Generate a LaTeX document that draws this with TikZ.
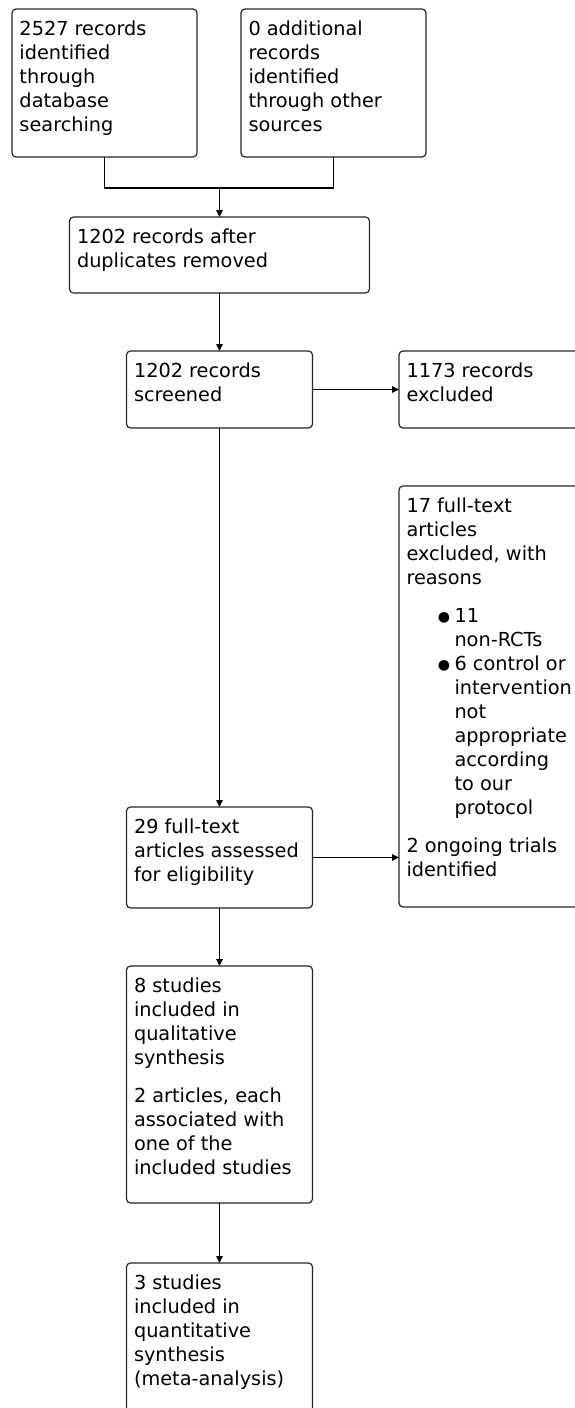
\documentclass[tikz,border=0pt]{standalone}
\usepackage{fontspec}
\setmainfont{DejaVu Sans}
\usetikzlibrary{arrows.meta}
\newcommand\boxtext[3]{\parbox[t][#2][t]{#1}{\raggedright\rule{0pt}{26pt}#3}}
\newcommand\bul{\hspace*{48pt}\llap{\raisebox{0.5pt}{\fontsize{14}{14}\selectfont ●}\hspace{4.5pt}}}
\newcommand\ind{\hspace*{48pt}}
\tikzset{
  box/.style={draw=black!85, line width=1.2pt, rounded corners=4pt, inner xsep=7.5pt,
    inner ysep=0pt, outer sep=0pt, anchor=north west, text=black,
    font=\fontsize{19.3}{24}\selectfont},
  conn/.style={draw=black, line width=1.1pt},
  arr/.style={conn, -{Triangle[length=7pt,width=6.5pt]}}
}
\begin{document}
\begin{tikzpicture}[x=1pt,y=-1pt]
\useasboundingbox (0,0) rectangle (575,1408);
\fill[white] (0,0) rectangle (575,1408);
\clip (0,0) rectangle (575,1408);
\node[box] (A) at (12,9) {\boxtext{170pt}{148pt}{2527 records\\identified\\through\\database\\searching}};
\node[box] (B) at (241,9) {\boxtext{170pt}{148pt}{0 additional\\records\\identified\\through other\\sources}};
\node[box] (C) at (69.5,217) {\boxtext{285pt}{76pt}{1202 records after\\duplicates removed}};
\node[box] (D) at (126.5,351) {\boxtext{171pt}{77pt}{1202 records\\screened}};
\node[box] (E) at (399,351) {\boxtext{185pt}{77pt}{1173 records\\excluded}};
\node[box] (F) at (399,486) {\boxtext{185pt}{421pt}{17 full-text\\articles\\excluded, with\\reasons\\[14pt]\bul 11\\\ind non-RCTs\\\bul 6 control or\\\ind intervention\\\ind not\\\ind appropriate\\\ind according\\\ind to our\\\ind protocol\\[14pt]2 ongoing trials\\identified}};
\node[box] (G) at (126.5,807) {\boxtext{171pt}{101pt}{29 full-text\\articles assessed\\for eligibility}};
\node[box] (H) at (126.5,966) {\boxtext{171pt}{237pt}{8 studies\\included in\\qualitative\\synthesis\\[14pt]2 articles, each\\associated with\\one of the\\included studies}};
\node[box] (I) at (126.5,1263) {\boxtext{171pt}{200pt}{3 studies\\included in\\quantitative\\synthesis\\(meta-analysis)}};
\coordinate (m) at (219.5,188);
\draw[conn] (A.south) |- (m) -| (B.south);
\draw[arr] (m) -- (C.north);
\draw[arr] (C.south) -- (D.north);
\draw[arr] (D.east) -- (D.east -| E.west);
\draw[arr] (D.south) -- (G.north);
\draw[arr] (G.east) -- (G.east -| F.west);
\draw[arr] (G.south) -- (H.north);
\draw[arr] (H.south) -- (I.north);
\end{tikzpicture}
\end{document}
